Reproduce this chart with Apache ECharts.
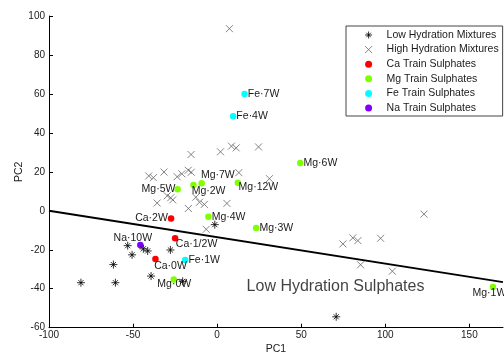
<!DOCTYPE html>
<html>
<head>
<meta charset="utf-8">
<script src="https://cdn.jsdelivr.net/npm/echarts@6/dist/echarts.min.js"></script>
<style>
  html, body { margin: 0; padding: 0; background: #fff; }
  #chart { width: 504px; height: 354px; }
</style>
</head>
<body>
<div id="chart"></div>
<script>
// 数据
const lowX = [-53.2, -50.6, -43.9, -41.3, -27.8, -61.7, -81.0, -60.5, -39.3, -20.5, -1.4, 70.8];
const lowY = [-17.9, -22.6, -19.5, -20.6, -20.1, -27.6, -36.9, -36.9, -33.5, -36.2, -7.1, -54.4];

const highX = [7.3, -40.7, -37.9, -31.6, -23.8, -21.0, -17.2, -15.4, -15.5, 2.0, 8.5, 11.3, 12.9, 24.6, 31.1,
  -35.7, -29.7, -27.6, -26.4, -12.7, -10.5, -7.6, 5.8, -17.1, -6.5, 123.0, 74.8, 80.7, 83.7, 97.2, 85.3, 104.2];
const highY = [93.5, 17.9, 17.0, 19.9, 17.5, 19.0, 20.8, 19.8, 28.9, 30.3, 33.2, 32.3, 19.6, 32.8, 16.5,
  4.0, 7.7, 6.7, 5.6, 7.0, 4.4, 3.3, 3.8, 1.2, -9.5, -1.7, -17.0, -13.9, -15.3, -14.1, -27.7, -31.0];

const caNames = ['Ca·2W', 'Ca·1/2W', 'Ca·0W'];
const caX = [-27.4, -25.0, -36.7];
const caY = [-3.9, -14.1, -24.7];

const mgNames = ['Mg·7W', 'Mg·2W', 'Mg·5W', 'Mg·12W', 'Mg·4W', 'Mg·3W', 'Mg·6W', 'Mg·0W', 'Mg·1W'];
const mgX = [-9.2, -14.1, -23.5, 12.3, -5.2, 23.2, 49.4, -25.8, 164.0];
const mgY = [14.1, 13.3, 11.1, 14.4, -3.1, -8.8, 24.6, -35.2, -39.1];

const feNames = ['Fe·7W', 'Fe·4W', 'Fe·1W'];
const feX = [16.3, 9.5, -19.0];
const feY = [59.9, 48.5, -25.2];

const naNames = ['Na·10W', 'Na·0W'];
const naX = [-45.7, -50.6];
const naY = [-17.5, -22.6];

// 分界线
const lineX = [-100, 170];
const lineY = [0, -36.6];

const annotText = ['Low Hydration Sulphates'];
const annotX = [70.4];
const annotY = [-38.8];

const seriesNames = ['Low Hydration Mixtures', 'High Hydration Mixtures', 'Ca Train Sulphates',
  'Mg Train Sulphates', 'Fe Train Sulphates', 'Na Train Sulphates'];

// label placement per sample (style only)
const labelPlace = {
  'Mg·7W': { position: 'right', offset: [-4, -8] },
  'Mg·2W': { position: 'right', offset: [-5, 6.5] },
  'Mg·12W': { position: 'right', offset: [-2.5, 4.5] },
  'Ca·1/2W': { position: 'right', offset: [-2.5, 5.5] },
  'Ca·0W': { position: 'right', offset: [-4.5, 6.7] },
  'Mg·5W': { position: 'left', offset: [1, 0] },
  'Ca·2W': { position: 'left', offset: [0, 0] },
  'Na·10W': { position: 'inside', offset: [-7.5, -7] },
  'Na·0W': { position: 'inside', offset: [-10.5, -2.6] },
  'Mg·0W': { position: 'inside', offset: [0.5, 4.3] },
  'Mg·1W': { position: 'inside', offset: [-3.5, 6.6] }
};

const STAR = 'path://M5,0 L5,10 M0,5 L10,5 M1.8,1.8 L8.2,8.2 M8.2,1.8 L1.8,8.2';
const CROSS = 'path://M0,0 L10,10 M10,0 L0,10';
const FONT = '"Liberation Sans", Arial, sans-serif';

const zip = (xs, ys) => xs.map((x, i) => [x, ys[i]]);

function sulphateSeries(name, names, xs, ys, color) {
  return {
    name: name,
    type: 'scatter',
    symbol: 'circle',
    symbolSize: 6.5,
    itemStyle: { color: color, opacity: 1 },
    z: 4,
    data: names.map((n, i) => {
      const place = labelPlace[n] || { position: 'right', offset: [0, 0] };
      const item = {
        name: n,
        value: [xs[i], ys[i]],
        label: {
          show: true,
          formatter: n,
          position: place.position,
          offset: place.offset,
          distance: 0,
          fontFamily: FONT,
          fontSize: 10.5,
          color: '#1a1a1a'
        }
      };
      // Na·0W 的点被星号挡住
      if (n === 'Na·0W') item.itemStyle = { opacity: 0 };
      return item;
    })
  };
}

const chart = echarts.init(document.getElementById('chart'));

const option = {
  animation: false,
  backgroundColor: '#fff',
  grid: { left: 49, right: 1, top: 16, bottom: 26.3, containLabel: false, outerBoundsMode: 'none' },
  legend: {
    orient: 'vertical',
    left: 346,
    top: 26,
    backgroundColor: '#fff',
    borderColor: '#444',
    borderWidth: 1,
    borderRadius: 0,
    padding: [3, 4, 2, 18.6],
    itemWidth: 26,
    itemHeight: 7,
    itemGap: 2.6,
    textStyle: { fontFamily: FONT, fontSize: 10.5, lineHeight: 12, color: '#1a1a1a' },
    data: [
      { name: seriesNames[0], itemStyle: { borderWidth: 1, borderColor: '#000' } },
      { name: seriesNames[1], itemStyle: { borderWidth: 1, borderColor: '#666' } },
      { name: seriesNames[2], itemStyle: { borderWidth: 0 } },
      { name: seriesNames[3], itemStyle: { borderWidth: 0 } },
      { name: seriesNames[4], itemStyle: { borderWidth: 0 } },
      { name: seriesNames[5], itemStyle: { borderWidth: 0 } }
    ]
  },
  xAxis: {
    type: 'value',
    min: -100,
    max: 170,
    interval: 50,
    name: 'PC1',
    nameLocation: 'middle',
    nameGap: 16,
    nameMoveOverlap: false,
    nameTextStyle: { fontFamily: FONT, fontSize: 10.5, color: '#1a1a1a' },
    splitLine: { show: false },
    axisLine: { show: true, onZero: false, lineStyle: { color: '#000', width: 1 } },
    axisTick: { show: true, inside: true, length: 4, lineStyle: { color: '#000' } },
    axisLabel: {
      showMaxLabel: false,
      margin: 3,
      fontFamily: FONT,
      fontSize: 10,
      color: '#1a1a1a',
      formatter: v => (v % 50 === 0 ? String(v) : '')
    }
  },
  yAxis: {
    type: 'value',
    min: -60,
    max: 100,
    interval: 20,
    name: 'PC2',
    nameLocation: 'middle',
    nameGap: 24,
    nameMoveOverlap: false,
    nameTextStyle: { fontFamily: FONT, fontSize: 10.5, color: '#1a1a1a' },
    splitLine: { show: false },
    axisLine: { show: true, onZero: false, lineStyle: { color: '#000', width: 1 } },
    axisTick: { show: true, inside: true, length: 4, lineStyle: { color: '#000' } },
    axisLabel: { margin: 4, fontFamily: FONT, fontSize: 10, color: '#1a1a1a' }
  },
  series: [
    {
      name: 'divider',
      type: 'line',
      symbol: 'none',
      silent: true,
      z: 2,
      lineStyle: { color: '#000', width: 2 },
      data: zip(lineX, lineY)
    },
    {
      name: seriesNames[0],
      type: 'scatter',
      symbol: STAR,
      symbolSize: 8,
      z: 5,
      itemStyle: { color: '#000', borderColor: '#000', borderWidth: 1 },
      data: zip(lowX, lowY)
    },
    {
      name: seriesNames[1],
      type: 'scatter',
      symbol: CROSS,
      symbolSize: 7,
      z: 3,
      itemStyle: { color: '#666', borderColor: '#666', borderWidth: 1 },
      data: zip(highX, highY)
    },
    sulphateSeries(seriesNames[2], caNames, caX, caY, '#ff0000'),
    sulphateSeries(seriesNames[3], mgNames, mgX, mgY, '#80ff00'),
    sulphateSeries(seriesNames[4], feNames, feX, feY, '#00ffff'),
    sulphateSeries(seriesNames[5], naNames, naX, naY, '#8000ff'),
    {
      name: 'annotation',
      type: 'scatter',
      symbolSize: 0,
      silent: true,
      z: 6,
      data: annotText.map((t, i) => ({ name: t, value: [annotX[i], annotY[i]] })),
      label: {
        show: true,
        position: 'inside',
        formatter: p => p.name,
        fontFamily: FONT,
        fontSize: 16,
        color: '#111'
      }
    }
  ]
};

chart.setOption(option);
</script>
</body>
</html>
